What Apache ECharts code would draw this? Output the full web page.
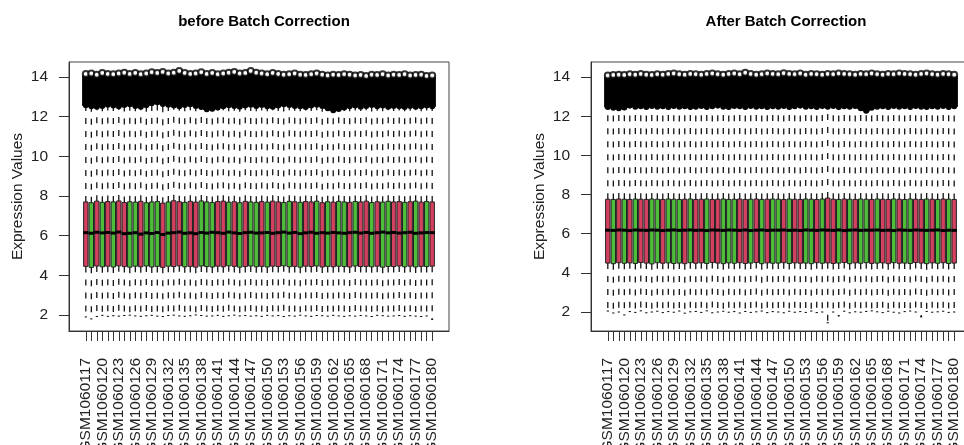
<!DOCTYPE html>
<html>
<head>
<meta charset="utf-8">
<script src="https://cdn.jsdelivr.net/npm/echarts@6/dist/echarts.min.js"></script>
<style>
  html, body { margin: 0; padding: 0; background: #fff; }
  #chart { width: 964px; height: 445px; }
</style>
</head>
<body>
<div id="chart"></div>
<script>
// sample names GSM1060117 .. GSM1060180
var samples = [];
for (var s = 117; s <= 180; s++) samples.push("GSM1060" + s);

// batch of each sample (1 = red, 2 = green)
var batch = [
  1,2,1,2,1,2,1,1,2,2,1,2,2,2,1,2,
  1,1,2,1,1,2,2,2,1,1,2,1,2,1,2,2,
  1,2,1,1,2,2,1,2,1,1,2,1,2,1,2,2,
  1,2,1,1,2,1,2,2,1,1,2,1,2,1,2,1
];

// before correction: whisker ends, quartiles, top of outliers
var beforeLow = [
  1.90,1.80,1.92,1.98,1.93,1.96,1.94,1.97,1.99,1.95,1.93,1.96,1.98,1.94,1.92,1.97,
  1.99,1.95,1.93,1.96,2.00,1.97,1.94,1.95,1.98,1.93,1.96,1.99,1.95,1.97,1.94,1.96,
  1.93,1.98,1.95,1.97,1.92,1.96,1.94,1.99,1.95,1.93,1.97,1.96,1.94,1.98,1.95,1.93,
  1.96,1.94,1.97,1.95,1.92,1.98,1.96,1.94,1.95,1.97,1.93,1.96,1.94,1.92,1.95,1.78
];
var beforeQ1 = [
  4.45,4.40,4.47,4.43,4.46,4.42,4.48,4.44,4.41,4.46,4.43,4.47,4.42,4.45,4.40,4.46,
  4.44,4.48,4.43,4.45,4.41,4.47,4.44,4.42,4.46,4.43,4.48,4.45,4.41,4.44,4.47,4.43,
  4.45,4.42,4.46,4.44,4.48,4.43,4.45,4.41,4.46,4.44,4.47,4.42,4.45,4.43,4.46,4.44,
  4.42,4.47,4.44,4.45,4.43,4.46,4.41,4.45,4.44,4.47,4.43,4.46,4.42,4.45,4.44,4.46
];
var beforeMed = [
  6.15,6.12,6.17,6.14,6.16,6.13,6.18,6.10,6.12,6.15,6.08,6.14,6.11,6.16,6.06,6.13,
  6.15,6.18,6.12,6.14,6.10,6.16,6.13,6.17,6.15,6.12,6.18,6.14,6.11,6.15,6.17,6.13,
  6.14,6.16,6.12,6.15,6.18,6.13,6.16,6.10,6.14,6.17,6.12,6.15,6.13,6.16,6.14,6.12,
  6.15,6.17,6.13,6.16,6.12,6.15,6.18,6.14,6.16,6.13,6.15,6.17,6.12,6.14,6.16,6.15
];
var beforeQ3 = [
  7.70,7.66,7.74,7.68,7.72,7.70,7.75,7.67,7.71,7.69,7.73,7.66,7.70,7.72,7.64,7.70,
  7.76,7.71,7.68,7.73,7.69,7.75,7.70,7.67,7.72,7.74,7.69,7.71,7.66,7.73,7.70,7.68,
  7.72,7.69,7.74,7.70,7.67,7.73,7.71,7.68,7.72,7.70,7.74,7.66,7.71,7.69,7.73,7.70,
  7.68,7.72,7.70,7.74,7.67,7.71,7.69,7.73,7.70,7.72,7.68,7.71,7.74,7.69,7.72,7.70
];
var beforeHigh = [
  12.45,12.40,12.38,12.42,12.48,12.44,12.40,12.46,12.50,12.42,12.38,12.45,12.55,12.60,12.52,12.48,
  12.44,12.40,12.46,12.50,12.42,12.36,12.25,12.28,12.34,12.40,12.45,12.42,12.38,12.44,12.48,12.42,
  12.46,12.40,12.38,12.44,12.50,12.46,12.42,12.40,12.36,12.44,12.48,12.42,12.30,12.20,12.26,12.34,
  12.40,12.44,12.38,12.42,12.46,12.40,12.44,12.38,12.42,12.40,12.36,12.42,12.38,12.40,12.44,12.40
];
var beforeMax = [
  14.15,14.18,14.12,14.20,14.16,14.14,14.18,14.22,14.16,14.20,14.14,14.18,14.24,14.20,14.26,14.18,
  14.22,14.30,14.20,14.16,14.18,14.24,14.16,14.20,14.14,14.18,14.22,14.26,14.18,14.20,14.30,14.22,
  14.18,14.14,14.20,14.16,14.12,14.14,14.18,14.12,14.10,14.14,14.18,14.12,14.08,14.12,14.10,14.14,
  14.12,14.08,14.10,14.06,14.12,14.10,14.14,14.08,14.12,14.10,14.14,14.08,14.10,14.12,14.06,14.08
];

// after correction
var afterLow = [
  2.05,1.95,2.00,1.85,2.02,1.98,2.06,1.96,2.00,2.04,1.97,2.02,1.99,2.05,1.94,2.01,
  2.03,1.98,2.06,1.96,2.00,2.04,1.99,2.02,1.95,2.03,1.98,2.01,2.05,1.97,2.02,2.00,
  1.96,2.04,1.99,2.02,1.98,2.05,1.97,2.00,1.45,2.00,1.80,2.04,1.96,2.01,1.99,2.03,
  2.06,2.01,1.97,2.04,1.99,1.95,2.02,2.05,2.00,1.75,2.03,1.99,2.01,2.04,1.98,2.00
];
var afterQ1 = [
  4.50,4.47,4.52,4.49,4.51,4.48,4.53,4.50,4.46,4.52,4.49,4.51,4.48,4.50,4.47,4.52,
  4.49,4.51,4.48,4.53,4.50,4.47,4.51,4.49,4.52,4.48,4.50,4.53,4.47,4.51,4.49,4.50,
  4.52,4.48,4.51,4.49,4.50,4.47,4.52,4.49,4.51,4.48,4.50,4.53,4.47,4.51,4.49,4.52,
  4.48,4.50,4.51,4.47,4.52,4.49,4.50,4.48,4.53,4.50,4.47,4.51,4.49,4.52,4.48,4.50
];
var afterMed = [
  6.18,6.17,6.19,6.18,6.16,6.19,6.18,6.17,6.19,6.18,6.16,6.18,6.19,6.17,6.18,6.19,
  6.17,6.18,6.16,6.19,6.18,6.17,6.19,6.18,6.17,6.19,6.16,6.18,6.19,6.17,6.18,6.18,
  6.19,6.17,6.18,6.16,6.19,6.18,6.17,6.19,6.18,6.17,6.19,6.16,6.18,6.19,6.17,6.18,
  6.18,6.19,6.17,6.18,6.16,6.19,6.18,6.17,6.19,6.18,6.17,6.18,6.19,6.16,6.18,6.17
];
var afterQ3 = [
  7.76,7.75,7.77,7.76,7.75,7.77,7.76,7.75,7.77,7.76,7.75,7.77,7.76,7.75,7.76,7.77,
  7.75,7.76,7.77,7.75,7.76,7.77,7.75,7.76,7.77,7.75,7.76,7.77,7.75,7.76,7.77,7.76,
  7.75,7.77,7.76,7.75,7.77,7.76,7.75,7.77,7.82,7.76,7.75,7.77,7.76,7.75,7.77,7.76,
  7.75,7.77,7.76,7.75,7.77,7.76,7.75,7.77,7.76,7.75,7.77,7.76,7.75,7.77,7.76,7.75
];
var afterHigh = [
  12.35,12.30,12.28,12.32,12.42,12.36,12.38,12.34,12.40,12.36,12.38,12.35,12.40,12.36,12.38,12.34,
  12.36,12.40,12.35,12.38,12.42,12.36,12.34,12.40,12.38,12.35,12.40,12.36,12.38,12.34,12.38,12.36,
  12.40,12.35,12.38,12.42,12.36,12.38,12.34,12.40,12.36,12.40,12.35,12.38,12.36,12.40,12.28,12.15,
  12.30,12.36,12.38,12.34,12.40,12.36,12.38,12.35,12.40,12.36,12.34,12.38,12.36,12.40,12.35,12.38
];
var afterMax = [
  14.08,14.10,14.12,14.10,14.14,14.12,14.16,14.12,14.10,14.14,14.12,14.16,14.18,14.14,14.12,14.16,
  14.14,14.12,14.16,14.18,14.14,14.12,14.16,14.18,14.14,14.22,14.16,14.12,14.14,14.18,14.16,14.14,
  14.20,14.16,14.14,14.18,14.12,14.16,14.14,14.12,14.16,14.14,14.18,14.16,14.14,14.12,14.16,14.14,
  14.18,14.14,14.12,14.16,14.14,14.18,14.16,14.14,14.12,14.16,14.18,14.14,14.12,14.16,14.14,14.12
];

var yTicks = [2, 4, 6, 8, 10, 12, 14];

var RED = "#d4405f", GREEN = "#4dbd3a";
var FONT = "Liberation Sans";

function rows(low, q1, med, q3, high, max) {
  var out = [];
  for (var i = 0; i < samples.length; i++) {
    out.push([i, low[i], q1[i], med[i], q3[i], high[i], max[i], batch[i]]);
  }
  return out;
}

function renderBox(params, api) {
  var i = api.value(0);
  var lo = api.coord([i, api.value(1)]);
  var q1 = api.coord([i, api.value(2)]);
  var md = api.coord([i, api.value(3)]);
  var q3 = api.coord([i, api.value(4)]);
  var hi = api.coord([i, api.value(5)]);
  var mx = api.coord([i, api.value(6)]);
  var band = api.size([1, 0])[0];
  var x = lo[0];
  var bw = band * 0.8;
  var cap = bw * 0.5;
  var fill = api.value(7) === 1 ? RED : GREEN;
  return {
    type: "group",
    children: [
      // dense outliers above the whisker
      { type: "rect", shape: { x: x - band * 0.68, y: mx[1] + 1, width: band * 1.36, height: hi[1] - mx[1] - 3 }, style: { fill: "#000" } },
      { type: "circle", shape: { cx: x, cy: hi[1] - 2.5, r: 3 }, style: { fill: "#000" } },
      // whiskers
      { type: "line", shape: { x1: x, y1: q3[1], x2: x, y2: hi[1] }, style: { stroke: "#000", lineWidth: 1.2, lineDash: [6, 7] } },
      { type: "line", shape: { x1: x, y1: q1[1], x2: x, y2: lo[1] }, style: { stroke: "#000", lineWidth: 1.2, lineDash: [6, 7] } },
      { type: "line", shape: { x1: x - cap / 2, y1: lo[1], x2: x + cap / 2, y2: lo[1] }, style: { stroke: "#000", lineWidth: 1 } },
      // box
      { type: "rect", shape: { x: x - bw / 2, y: q3[1], width: bw, height: q1[1] - q3[1] }, style: { fill: fill, stroke: "#222", lineWidth: 1 } },
      // median
      { type: "line", shape: { x1: x - bw / 2 - 0.5, y1: md[1], x2: x + bw / 2 + 0.5, y2: md[1] }, style: { stroke: "#000", lineWidth: 3 } }
    ]
  };
}

function topPoints(max) {
  var out = [];
  for (var i = 0; i < max.length; i++) out.push([i, max[i]]);
  return out;
}

var tickIdx = [], labelIdx = [];
for (var k = 0; k < samples.length; k++) {
  tickIdx.push(k);
  if (k % 3 === 0) labelIdx.push(k);
}

function xAxisFor(gi) {
  return {
    type: "value",
    gridIndex: gi,
    min: -3.06,
    max: 66.06,
    splitLine: { show: false },
    axisLine: { show: true, onZero: false, lineStyle: { color: "#333", width: 1 } },
    axisTick: { show: true, customValues: tickIdx, length: 10, lineStyle: { color: "#333" } },
    axisLabel: {
      customValues: labelIdx,
      rotate: 90,
      margin: 27,
      fontFamily: FONT,
      fontSize: 15.5,
      color: "#222",
      formatter: function (v) { return samples[v]; }
    }
  };
}

function yAxisFor(gi, min, max) {
  return {
    type: "value",
    gridIndex: gi,
    min: min,
    max: max,
    name: "Expression Values",
    nameLocation: "middle",
    nameRotate: 90,
    nameGap: 43,
    nameTextStyle: { fontFamily: FONT, fontSize: 15.5, color: "#222" },
    splitLine: { show: false },
    axisLine: { show: true, onZero: false, lineStyle: { color: "#333", width: 1 } },
    axisTick: { show: true, customValues: yTicks, length: 10, lineStyle: { color: "#333" } },
    axisLabel: { customValues: yTicks, margin: 21, fontFamily: FONT, fontSize: 15.5, color: "#222" }
  };
}

var chart = echarts.init(document.getElementById("chart"), null, { renderer: "canvas" });

var option = {
  animation: false,
  backgroundColor: "#fff",
  title: [
    { text: "before Batch Correction", left: 259, top: 9, textAlign: "center",
      textStyle: { fontFamily: FONT, fontSize: 15, fontWeight: "bold", color: "#000" } },
    { text: "After Batch Correction", left: 781, top: 9, textAlign: "center",
      textStyle: { fontFamily: FONT, fontSize: 15, fontWeight: "bold", color: "#000" } }
  ],
  grid: [
    { left: 69, top: 62, width: 380, height: 269, outerBoundsMode: "none", show: true, borderColor: "#444", borderWidth: 1, backgroundColor: "transparent" },
    { left: 591, top: 62, width: 380, height: 269, outerBoundsMode: "none", show: true, borderColor: "#444", borderWidth: 1, backgroundColor: "transparent" }
  ],
  xAxis: [xAxisFor(0), xAxisFor(1)],
  yAxis: [yAxisFor(0, 1.19, 14.76), yAxisFor(1, 1.03, 14.77)],
  series: [
    {
      type: "custom", xAxisIndex: 0, yAxisIndex: 0,
      renderItem: renderBox,
      encode: { x: 0, y: [1, 2, 3, 4, 5, 6] },
      data: rows(beforeLow, beforeQ1, beforeMed, beforeQ3, beforeHigh, beforeMax)
    },
    {
      type: "scatter", xAxisIndex: 0, yAxisIndex: 0,
      symbol: "emptyCircle", symbolSize: 6,
      itemStyle: { color: "#000", borderWidth: 1 },
      data: topPoints(beforeMax)
    },
    {
      type: "custom", xAxisIndex: 1, yAxisIndex: 1,
      renderItem: renderBox,
      encode: { x: 0, y: [1, 2, 3, 4, 5, 6] },
      data: rows(afterLow, afterQ1, afterMed, afterQ3, afterHigh, afterMax)
    },
    {
      type: "scatter", xAxisIndex: 1, yAxisIndex: 1,
      symbol: "emptyCircle", symbolSize: 6,
      itemStyle: { color: "#000", borderWidth: 1 },
      data: topPoints(afterMax)
    }
  ]
};

chart.setOption(option);
</script>
</body>
</html>
